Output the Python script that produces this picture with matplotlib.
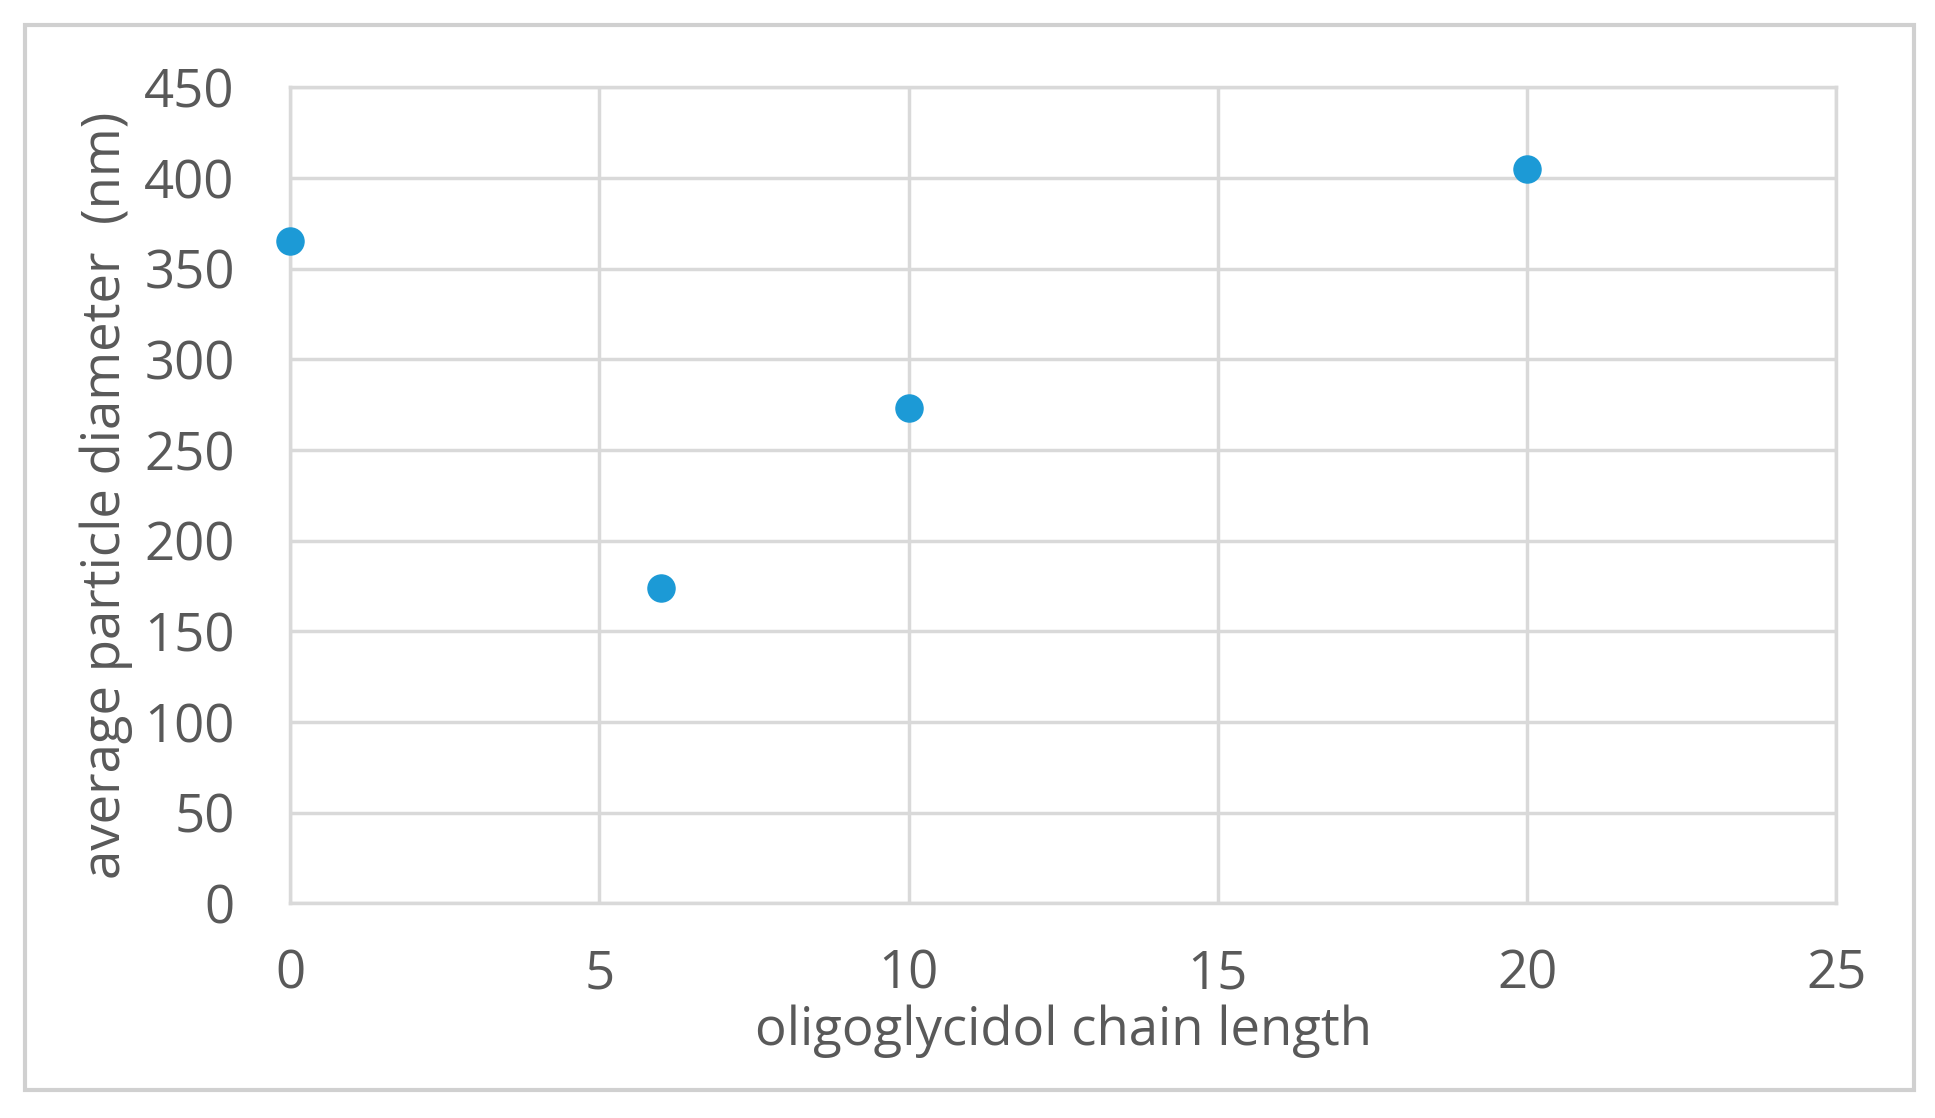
import matplotlib
matplotlib.use("Agg")
import matplotlib.pyplot as plt
from matplotlib.patches import Rectangle

chain_length = [0, 6, 10, 20]
diameter_nm = [365, 174, 273, 405]
x_ticks = [0, 5, 10, 15, 20, 25]
y_ticks = [0, 50, 100, 150, 200, 250, 300, 350, 400, 450]

plt.rcParams['font.family'] = ['Open Sans', 'DejaVu Sans']
fig = plt.figure(figsize=(19.35, 11.18), dpi=100)
fig.patches.append(Rectangle((0.013, 0.025), 0.976, 0.953, transform=fig.transFigure,
                             fill=False, edgecolor='#d0d0d0', linewidth=3))
ax = fig.add_axes([0.150, 0.192, 0.799, 0.730])
ax.scatter(chain_length, diameter_nm, s=19.5**2, color='#1c9ad6', zorder=3, clip_on=False)
ax.set_xlim(0, 25)
ax.set_ylim(0, 450)
ax.set_xticks(x_ticks)
ax.set_yticks(y_ticks)
ax.grid(True, color='#d9d9d9', linewidth=2.5)
ax.set_axisbelow(True)
for s in ax.spines.values():
    s.set_color('#d9d9d9'); s.set_linewidth(2.5)
ax.tick_params(length=0, labelsize=38, colors='#595959', pad=40)
ax.tick_params(axis='x', pad=32)
ax.set_xlabel('oligoglycidol chain length', fontsize=38, color='#595959', labelpad=2)
ax.set_ylabel('average particle diameter  (nm)', fontsize=38, color='#595959', labelpad=8)
fig.savefig('out.png', dpi=100)
